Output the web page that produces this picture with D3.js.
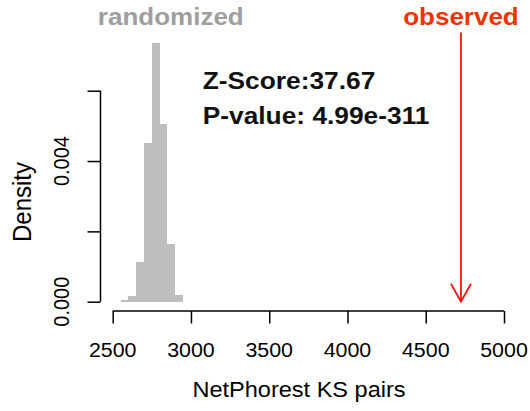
<!DOCTYPE html>
<html>
<head>
<meta charset="utf-8">
<script src="https://cdn.jsdelivr.net/npm/d3@7"></script>
<style>
  html, body { margin: 0; padding: 0; background: #fff; }
  svg { display: block; font-family: "Liberation Sans", Arial, Helvetica, sans-serif; }
</style>
</head>
<body>
<svg id="chart" width="530" height="411"></svg>
<script>
// Histogram of randomized NetPhorest KS pair counts (density, bin width 50)
const binStarts = [2550, 2600, 2650, 2700, 2750, 2800, 2850, 2900];
const binWidth = 50;
const densities = [0.00004, 0.00016, 0.00114, 0.00452, 0.00736, 0.00505, 0.00165, 0.0002];

// Observed value and summary statistics
const observedValue = 4725;
const zScore = "37.67";
const pValue = "4.99e-311";

// Axis ticks
const xTicks = [2500, 3000, 3500, 4000, 4500, 5000];
const yTicks = [0, 0.002, 0.004, 0.006];
const yTickLabels = ["0.000", "", "0.004", ""];

const svg = d3.select("#chart");
const sx = 1.07; // horizontal text stretch

const x = d3.scaleLinear().domain([2500, 5000]).range([112.7, 504]);
const y = d3.scaleLinear().domain([0, 0.006]).range([301.7, 90.7]);

// bars
svg.append("g")
  .selectAll("rect")
  .data(binStarts.map((s, i) => ({ x0: s, x1: s + binWidth, d: densities[i] })))
  .join("rect")
  .attr("x", d => x(d.x0))
  .attr("width", d => x(d.x1) - x(d.x0))
  .attr("y", d => y(d.d))
  .attr("height", d => y(0) - y(d.d))
  .attr("fill", "#bebebe")
  .attr("shape-rendering", "crispEdges");

function stretchedText(g, tx, ty, str, opts) {
  const t = g.append("text")
    .attr("transform", `translate(${tx},${ty}) scale(${sx},1)` + (opts.rotate ? ` rotate(${opts.rotate})` : ""))
    .attr("text-anchor", opts.anchor || "middle")
    .attr("font-size", opts.size)
    .attr("font-weight", opts.weight || "normal")
    .attr("fill", opts.fill || "#000")
    .text(str);
  return t;
}

// x axis
const xAxisY = 311;
const xAxis = d3.axisBottom(x).tickValues(xTicks).tickSize(12.5).tickFormat("");
const gx = svg.append("g").attr("transform", `translate(0,${xAxisY})`).call(xAxis);
gx.select(".domain").attr("stroke", "#000").attr("stroke-width", 1.5).attr("d", `M${x(2500)},0H${x(5000)}`);
gx.selectAll(".tick line").attr("stroke", "#000").attr("stroke-width", 1.5);
xTicks.forEach(v => stretchedText(svg, x(v), 356.7, String(v), { size: 20 }));

// y axis
const yAxisX = 100.5;
const yAxis = d3.axisLeft(y).tickValues(yTicks).tickSize(13).tickFormat("");
const gy = svg.append("g").attr("transform", `translate(${yAxisX},0)`).call(yAxis);
gy.select(".domain").attr("stroke", "#000").attr("stroke-width", 1.5).attr("d", `M0,${y(0)}V${y(0.006)}`);
gy.selectAll(".tick line").attr("stroke", "#000").attr("stroke-width", 1.5);
yTicks.forEach((v, i) => {
  if (yTickLabels[i]) stretchedText(svg, 68.5, y(v), yTickLabels[i], { size: 20, rotate: -90 });
});

// axis titles
stretchedText(svg, 299, 397, "NetPhorest KS pairs", { size: 22 });
stretchedText(svg, 30.5, 202, "Density", { size: 24, rotate: -90 });

// observed arrow
const arrowTop = d3.max(densities) * 1.04;
const ax = x(observedValue);
const ay0 = y(arrowTop), ay1 = y(0);
svg.append("line")
  .attr("x1", ax).attr("x2", ax).attr("y1", ay0).attr("y2", ay1)
  .attr("stroke", "#ff1010").attr("stroke-width", 1.8);
svg.append("path")
  .attr("d", `M${ax - 10},${ay1 - 18}L${ax},${ay1}L${ax + 10},${ay1 - 18}`)
  .attr("fill", "none").attr("stroke", "#ff1010").attr("stroke-width", 1.8);

// labels
stretchedText(svg, 170.8, 25, "randomized", { size: 24.3, weight: "bold", fill: "#9e9e9e" });
stretchedText(svg, ax, 25, "observed", { size: 24.3, weight: "bold", fill: "#ee3300" });
stretchedText(svg, 202.7, 89.3, "Z-Score:" + zScore, { size: 24.6, weight: "bold", fill: "#111", anchor: "start" });
stretchedText(svg, 202.7, 124, "P-value: " + pValue, { size: 24.6, weight: "bold", fill: "#111", anchor: "start" });
</script>
</body>
</html>
